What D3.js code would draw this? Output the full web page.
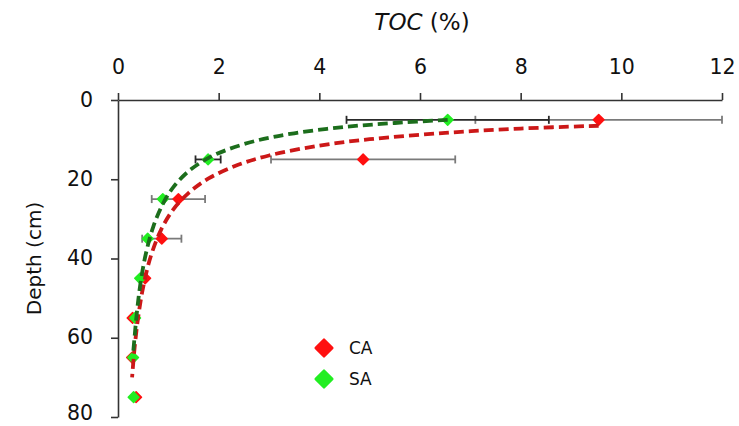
<!DOCTYPE html>
<html>
<head>
<meta charset="utf-8">
<script src="https://cdn.jsdelivr.net/npm/d3@7"></script>
<style>
	body { margin: 0; background: #fff; }
	text { font-family: "DejaVu Sans", Verdana, sans-serif; fill: #111; }
</style>
</head>
<body>
<script>
// DATA
const depths = [5, 15, 25, 35, 45, 55, 65, 75];
const tocCA = [9.55, 4.87, 1.2, 0.87, 0.54, 0.29, 0.28, 0.36];
const errCA = [2.45, 1.83, 0.53, 0.39, 0, 0, 0, 0];
const tocSA = [6.55, 1.79, 0.89, 0.59, 0.44, 0.34, 0.30, 0.31];
const errSA = [2.01, 0.25, 0, 0, 0, 0, 0, 0];

// trend lines, sampled along the dashed curves
const trendCAToc = [9.55, 8, 6.5, 5, 4, 3, 2.4, 1.8, 1.4, 1.1, 0.85, 0.65, 0.5, 0.4, 0.33, 0.28];
const trendCADepth = [6.5, 7.2, 8.3, 9.9, 11.5, 14.0, 16.3, 19.8, 23.5, 27.6, 32.9, 39.5, 47.2, 54.9, 62.5, 70.0];
const trendSAToc = [6.55, 5.5, 4.5, 3.5, 2.8, 2.2, 1.8, 1.4, 1.1, 0.9, 0.7, 0.55, 0.45, 0.38, 0.33, 0.3];
const trendSADepth = [5.0, 5.8, 6.8, 8.4, 10.1, 12.4, 14.6, 18.0, 22.0, 26.0, 32.0, 39.0, 46.0, 53.0, 59.7, 64.0];

const xTicks = [0, 2, 4, 6, 8, 10, 12];
const yTicks = [0, 20, 40, 60, 80];
const seriesNames = ['CA', 'SA'];

// CONFIGURATION
const width = 739;
const height = 426;
const series = [
	{ name: 'CA', toc: tocCA, err: errCA, tToc: trendCAToc, tDepth: trendCADepth,
		marker: '#ff1010', trend: '#cc1818', bar: '#7a7a7a' },
	{ name: 'SA', toc: tocSA, err: errSA, tToc: trendSAToc, tDepth: trendSADepth,
		marker: '#22ee22', trend: '#1c6e1c', bar: '#2a2a2a' }
];

const svg = d3.select('body')
	.append('svg')
	.attr('width', width)
	.attr('height', height);

const xScale = d3.scaleLinear().domain([0, 12]).range([118, 722]);
const yScale = d3.scaleLinear().domain([0, 80]).range([100, 417]);

// AXES
const xAxis = d3.axisTop(xScale).tickValues(xTicks).tickSize(7).tickPadding(19).tickSizeOuter(0);
const gx = svg.append('g')
	.attr('transform', `translate(0, ${yScale(0)})`)
	.call(xAxis);
const yAxis = d3.axisLeft(yScale).tickValues(yTicks).tickSize(7).tickPadding(18).tickSizeOuter(0);
const gy = svg.append('g')
	.attr('transform', `translate(${xScale(0)}, 0)`)
	.call(yAxis);

[gx, gy].forEach(g => {
	g.select('.domain').attr('stroke', '#333').attr('stroke-width', 1.6);
	g.selectAll('.tick line').attr('stroke', '#333').attr('stroke-width', 1.6);
	g.selectAll('.tick text')
		.style('font-family', '"DejaVu Sans", Verdana, sans-serif')
		.style('font-size', '20.5px')
		.attr('fill', '#111');
});
// last label sits on the bottom edge; lift it a little so it stays inside
gy.selectAll('.tick text').attr('dy', d => d === 80 ? '0.1em' : '0.3em');

svg.append('text')
	.attr('x', 422)
	.attr('y', 30)
	.attr('text-anchor', 'middle')
	.style('font-size', '23px')
	.html('<tspan font-style="italic">TOC</tspan> (%)');

svg.append('text')
	.attr('transform', `translate(34, ${yScale(40)}) rotate(-90)`)
	.attr('text-anchor', 'middle')
	.attr('dy', '0.35em')
	.style('font-size', '20px')
	.text('Depth (cm)');

// ERROR BARS
series.forEach(s => {
	const rows = depths.map((d, i) => ({ d, lo: s.toc[i] - s.err[i], hi: s.toc[i] + s.err[i], e: s.err[i] }))
		.filter(r => r.e > 0);
	const g = svg.append('g').attr('stroke', s.bar).attr('stroke-width', 1.8);
	g.selectAll('line.bar').data(rows).enter().append('line')
		.attr('x1', r => xScale(r.lo)).attr('x2', r => xScale(r.hi))
		.attr('y1', r => yScale(r.d)).attr('y2', r => yScale(r.d));
	g.selectAll('line.capl').data(rows).enter().append('line')
		.attr('x1', r => xScale(r.lo)).attr('x2', r => xScale(r.lo))
		.attr('y1', r => yScale(r.d) - 4).attr('y2', r => yScale(r.d) + 4);
	g.selectAll('line.caph').data(rows).enter().append('line')
		.attr('x1', r => xScale(r.hi)).attr('x2', r => xScale(r.hi))
		.attr('y1', r => yScale(r.d) - 4).attr('y2', r => yScale(r.d) + 4);
});

// MARKERS
const diamond = d3.symbol().type(d3.symbolSquare).size(58);
series.forEach(s => {
	svg.append('g').selectAll('path')
		.data(depths.map((d, i) => ({ d, v: s.toc[i] })))
		.enter()
		.append('path')
		.attr('d', diamond)
		.attr('transform', p => `translate(${xScale(p.v)}, ${yScale(p.d)}) rotate(45)`)
		.attr('fill', s.marker)
		.attr('stroke', s.marker)
		.attr('stroke-width', 1.5)
		.attr('stroke-linejoin', 'round');
});

// TREND LINES
const line = d3.line()
	.x(p => xScale(p[0]))
	.y(p => yScale(p[1]))
	.curve(d3.curveCatmullRom);
series.forEach(s => {
	svg.append('path')
		.datum(s.tToc.map((v, i) => [v, s.tDepth[i]]))
		.attr('d', line)
		.attr('fill', 'none')
		.attr('stroke', s.trend)
		.attr('stroke-width', 3.8)
		.attr('stroke-dasharray', '10 5');
});

// LEGEND
const legendDiamond = d3.symbol().type(d3.symbolSquare).size(130);
const legend = svg.append('g');
seriesNames.forEach((name, i) => {
	const s = series[i];
	legend.append('path')
		.attr('d', legendDiamond)
		.attr('transform', `translate(324, ${348 + i * 31}) rotate(45)`)
		.attr('fill', s.marker)
		.attr('stroke', s.marker)
		.attr('stroke-width', 3)
		.attr('stroke-linejoin', 'round');
	legend.append('text')
		.attr('x', 349)
		.attr('y', 348 + i * 31)
		.attr('dy', '0.36em')
		.style('font-size', '17px')
		.text(name);
});
</script>
</body>
</html>
